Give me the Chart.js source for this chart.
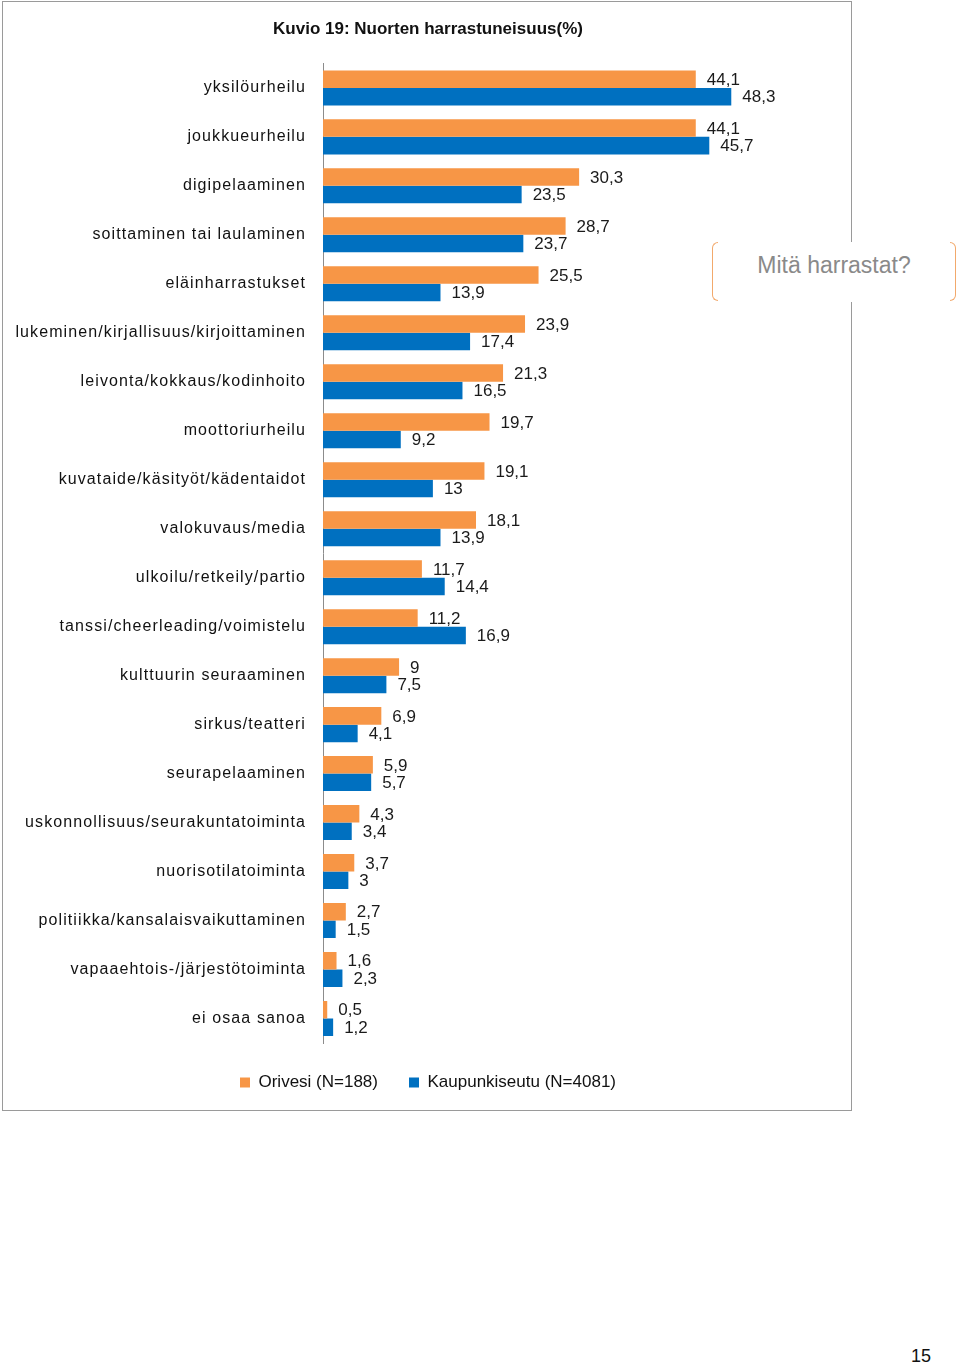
<!DOCTYPE html>
<html>
<head>
<meta charset="utf-8">
<script src="https://cdn.jsdelivr.net/npm/chart.js@4/dist/chart.umd.min.js"></script>
<style>
  body { margin: 0; background: #fff; font-family: "Liberation Sans", Arial, sans-serif; }
  #frame { position: absolute; left: 2px; top: 1px; width: 848px; height: 1108px; border: 1px solid #9a9a9a; }
  #c { position: absolute; left: 0; top: 0; }
  #callout {
    position: absolute; left: 712px; top: 242px; width: 244px; height: 60px;
    background: #fff; color: #8a8a8a; font-size: 23px; line-height: 46px; text-align: center;
  }
  #callout::before, #callout::after {
    content: ''; position: absolute; top: 0; width: 5px; height: 57px;
    border: 1.5px solid #f2a96c;
  }
  #callout::before { left: 0; border-right: none; border-radius: 6px 0 0 6px; }
  #callout::after { right: 0; border-left: none; border-radius: 0 6px 6px 0; }
  #page { position: absolute; left: 911px; top: 1346px; font-size: 18px; color: #111; }
</style>
</head>
<body>
<div id="frame"></div>
<canvas id="c" width="960" height="1110"></canvas>
<div id="callout">Mitä harrastat?</div>
<div id="page">15</div>
<script>
const categories = [
  'yksilöurheilu',
  'joukkueurheilu',
  'digipelaaminen',
  'soittaminen tai laulaminen',
  'eläinharrastukset',
  'lukeminen/kirjallisuus/kirjoittaminen',
  'leivonta/kokkaus/kodinhoito',
  'moottoriurheilu',
  'kuvataide/käsityöt/kädentaidot',
  'valokuvaus/media',
  'ulkoilu/retkeily/partio',
  'tanssi/cheerleading/voimistelu',
  'kulttuurin seuraaminen',
  'sirkus/teatteri',
  'seurapelaaminen',
  'uskonnollisuus/seurakuntatoiminta',
  'nuorisotilatoiminta',
  'politiikka/kansalaisvaikuttaminen',
  'vapaaehtois-/järjestötoiminta',
  'ei osaa sanoa'
];
const orivesi = [44.1, 44.1, 30.3, 28.7, 25.5, 23.9, 21.3, 19.7, 19.1, 18.1, 11.7, 11.2, 9, 6.9, 5.9, 4.3, 3.7, 2.7, 1.6, 0.5];
const kaupunkiseutu = [48.3, 45.7, 23.5, 23.7, 13.9, 17.4, 16.5, 9.2, 13, 13.9, 14.4, 16.9, 7.5, 4.1, 5.7, 3.4, 3, 1.5, 2.3, 1.2];
const seriesNames = ['Orivesi (N=188)', 'Kaupunkiseutu (N=4081)'];

Chart.defaults.font.family = '"Liberation Sans", Arial, sans-serif';

// y tick labels are a little spaced out in the original
const tickSpacing = {
  id: 'tickSpacing',
  beforeDraw(chart) {
    const y = chart.scales.y;
    if (y._spaced) return;
    const orig = y.drawLabels.bind(y);
    y.drawLabels = function (area) {
      chart.ctx.save();
      chart.ctx.letterSpacing = '1.1px';
      orig(area);
      chart.ctx.restore();
    };
    y._spaced = true;
  }
};

const valueLabels = {
  id: 'valueLabels',
  afterDatasetsDraw(chart) {
    const ctx = chart.ctx;
    ctx.save();
    ctx.font = '17px "Liberation Sans", Arial, sans-serif';
    ctx.fillStyle = '#1a1a1a';
    ctx.textAlign = 'left';
    ctx.textBaseline = 'middle';
    chart.data.datasets.forEach((ds, i) => {
      chart.getDatasetMeta(i).data.forEach((bar, j) => {
        ctx.fillText(String(ds.data[j]).replace('.', ','), bar.x + 11, bar.y + 1);
      });
    });
    ctx.restore();
  }
};

const ctx = document.getElementById('c').getContext('2d');
new Chart(ctx, {
  type: 'bar',
  data: {
    labels: categories,
    datasets: [
      { label: seriesNames[0], data: orivesi, backgroundColor: 'rgb(247, 150, 70)', categoryPercentage: 0.715, barPercentage: 1 },
      { label: seriesNames[1], data: kaupunkiseutu, backgroundColor: 'rgb(0, 112, 192)', categoryPercentage: 0.715, barPercentage: 1 }
    ]
  },
  options: {
    indexAxis: 'y',
    responsive: false,
    animation: false,
    devicePixelRatio: 1,
    layout: { padding: { left: 3, right: 107, top: 1, bottom: 9 } },
    scales: {
      x: { display: false, min: 0, max: 62.7 },
      y: {
        grid: { display: false, drawTicks: false },
        border: { display: true, color: '#8c8c8c', width: 1 },
        ticks: { padding: 17, color: '#111', font: { size: 16 } },
        afterFit(scale) { scale.width = 320; }
      }
    },
    plugins: {
      title: {
        display: true,
        text: 'Kuvio 19: Nuorten harrastuneisuus(%)',
        color: '#111',
        font: { size: 17, weight: 'bold' },
        padding: { top: 18, bottom: 24 }
      },
      legend: {
        position: 'bottom',
        labels: { boxWidth: 10, boxHeight: 10, padding: 31, color: '#111', font: { size: 17 } }
      },
      tooltip: { enabled: false }
    }
  },
  plugins: [tickSpacing, valueLabels]
});
</script>
</body>
</html>
